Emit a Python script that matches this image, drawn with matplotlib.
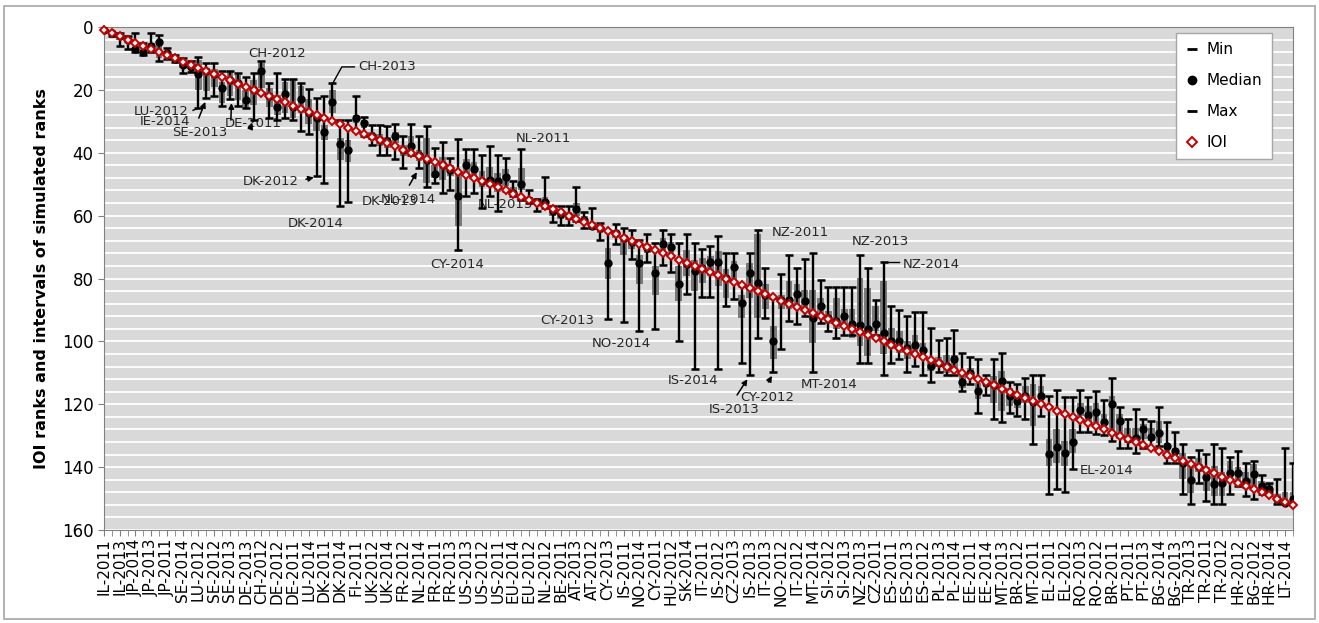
import numpy as np
import matplotlib
matplotlib.use("Agg")
import matplotlib.pyplot as plt
from matplotlib.lines import Line2D
from matplotlib.patches import Rectangle

# IOI rank of each country-year (1..152); only every second one is labelled on the axis
ioi = np.arange(1, 153)

tick_labels = [
    "IL-2011", "IL-2013", "JP-2014", "JP-2013", "JP-2011", "SE-2014", "LU-2012", "SE-2012",
    "SE-2013", "DE-2013", "CH-2012", "DE-2012", "DE-2011", "LU-2014", "DK-2011", "DK-2014",
    "FI-2011", "UK-2012", "UK-2014", "FR-2012", "NL-2014", "FR-2011", "FR-2013", "US-2013",
    "US-2012", "US-2011", "EU-2014", "EU-2012", "NL-2012", "BE-2011", "AT-2013", "AT-2012",
    "CY-2013", "IS-2011", "NO-2014", "CY-2011", "HU-2012", "SK-2014", "IT-2011", "IS-2012",
    "CZ-2013", "IS-2013", "IT-2013", "NO-2012", "IT-2012", "MT-2014", "SI-2012", "SI-2013",
    "NZ-2013", "CZ-2011", "ES-2011", "ES-2013", "ES-2012", "PL-2013", "PL-2014", "EE-2011",
    "EE-2014", "MT-2013", "BR-2012", "MT-2011", "EL-2011", "EL-2012", "RO-2013", "RO-2012",
    "BR-2011", "PT-2011", "PT-2013", "BG-2014", "BG-2013", "TR-2013", "TR-2011", "TR-2012",
    "HR-2012", "BG-2012", "HR-2014", "LT-2014",
]

median = np.array([
    1, 2, 3, 4, 7, 8, 6, 4.9, 8.4, 10.2,
    12, 12.6, 14.9, 14, 15, 19.5, 16.8, 17.9, 23.2, 20,
    14, 22.1, 25.3, 21.4, 25.3, 22.9, 27.4, 29.0, 33.4, 23.9,
    37.2, 39.0, 29.0, 30.6, 34.8, 35.9, 36.4, 34.8, 39.0, 37.7,
    40.8, 42.2, 46.7, 43.8, 45.4, 53.9, 43.8, 45.1, 49.1, 48.6,
    49.1, 47.7, 52.8, 49.8, 55.0, 55.8, 55.7, 58.6, 59.5, 60.2,
    57.9, 61.3, 63.2, 63.9, 75.0, 65.5, 67.0, 68.5, 75.0, 70.3,
    78.4, 68.9, 70.0, 81.6, 75.5, 77.7, 76.6, 74.8, 74.8, 79.8,
    76.3, 87.9, 78.2, 81.4, 85.1, 99.9, 86.7, 86.7, 84.9, 87.2,
    92.5, 88.6, 92.5, 93.5, 91.9, 94.6, 94.8, 96.2, 94.6, 97.3,
    99.9, 99.9, 102.0, 101.2, 102.8, 107.9, 106.8, 107.7, 105.7, 112.9,
    110.0, 115.8, 113.2, 114.0, 112.6, 117.4, 119.0, 117.4, 119.3, 117.4,
    135.9, 133.5, 135.4, 132.0, 121.9, 123.5, 122.5, 125.6, 119.8, 125.3,
    130.9, 130.6, 128.0, 130.3, 129.0, 133.3, 134.8, 138.6, 144.0, 140.1,
    143.3, 145.4, 144.9, 142.0, 142.0, 144.4, 142.3, 146.0, 146.8, 150.2,
    151.3, 150.2,
])

rank_min = np.array([
    1, 2, 2, 3, 2, 5, 2, 2.6, 6.8, 9,
    10, 10.8, 9.7, 11.5, 11.5, 13.9, 13.9, 14.5, 15.8, 14.5,
    10.7, 17.7, 14.5, 16.6, 16.6, 17.7, 19.8, 22.6, 21.8, 17.7,
    29.7, 29.7, 21.8, 28.7, 31.1, 31.1, 31.6, 30.8, 34.8, 30.8,
    34.8, 31.6, 38.5, 36.7, 41.7, 35.7, 38.8, 38.8, 40.6, 37.7,
    40.8, 41.8, 48.9, 38.8, 51.7, 54.6, 47.7, 56.8, 56.8, 56.8,
    50.9, 58.8, 57.6, 62.5, 64.9, 62.8, 63.9, 64.7, 67.6, 65.8,
    68.7, 64.7, 65.8, 68.7, 65.8, 68.7, 70.6, 69.7, 66.6, 71.9,
    71.9, 82.4, 71.9, 64.7, 76.6, 86.1, 78.5, 72.6, 76.6, 73.8,
    71.9, 80.5, 82.6, 82.6, 82.6, 82.6, 72.6, 76.6, 86.7, 74.8,
    88.6, 89.9, 91.8, 90.7, 90.7, 95.7, 99.7, 98.9, 96.5, 103.6,
    104.9, 105.7, 110.8, 105.7, 103.8, 112.9, 113.7, 111.6, 110.8, 110.8,
    117.4, 115.6, 117.6, 117.6, 115.6, 117.6, 115.8, 118.8, 111.6, 120.9,
    124.8, 121.6, 124.8, 125.3, 120.9, 125.6, 128.8, 132.7, 136.7, 134.6,
    135.9, 132.7, 133.8, 136.7, 134.8, 138.6, 138.0, 142.6, 144.9, 143.8,
    133.8, 138.6,
])

rank_max = np.array([
    1, 3, 6, 7, 8, 9, 8, 10.8, 10.3, 11,
    14.7, 14.2, 25.8, 22.6, 21.9, 25.1, 22.9, 25.1, 25.8, 29.5,
    21, 29, 29.5, 29, 29.7, 33, 33.9, 47.5, 49.6, 29.7,
    56.8, 55.7, 33.2, 34.8, 37.4, 40.8, 40.8, 41.9, 44.9, 40.6,
    44.9, 50.9, 49.6, 52.8, 51.7, 70.8, 53.9, 52.8, 57.6, 53.9,
    58.6, 52.3, 53.9, 54.9, 55.9, 58.6, 57.6, 61.9, 63.0, 63.0,
    61.8, 63.9, 63.9, 67.9, 92.8, 68.9, 93.9, 73.9, 96.7, 74.8,
    96.0, 75.8, 78.0, 99.9, 84.8, 108.9, 85.8, 85.8, 108.9, 88.8,
    86.5, 107.0, 110.8, 98.8, 92.5, 109.7, 102.5, 93.5, 94.6, 91.9,
    109.7, 94.3, 96.7, 98.8, 98.1, 98.1, 107.0, 107.0, 98.1, 110.8,
    107.0, 105.7, 109.8, 107.9, 110.8, 112.9, 109.8, 110.8, 110.8, 115.8,
    113.7, 122.9, 116.9, 124.8, 125.6, 122.9, 123.7, 124.8, 132.7, 123.7,
    148.6, 147.0, 148.0, 140.7, 128.8, 128.8, 129.6, 129.9, 131.7, 133.8,
    133.8, 135.4, 133.8, 133.8, 133.3, 138.8, 138.8, 148.6, 151.8, 144.9,
    150.7, 151.8, 151.8, 148.6, 146.0, 149.1, 150.0, 148.6, 148.0, 151.8,
    151.8, 152,
])

# grey band around the median
q_low = np.array([
    1, 2, 3, 4, 6.5, 7.3, 5, 4, 8, 9.5,
    11, 12, 10.5, 13.1, 13.5, 17.4, 14.2, 15.2, 20, 16.8,
    11.5, 19.5, 21.6, 17.4, 16.8, 18.9, 23.0, 27.4, 31.1, 20.0,
    35.3, 35.9, 28.0, 29.5, 33.5, 34, 35, 33.5, 37.5, 34.8,
    39, 35.3, 44, 41.2, 44, 46.5, 42, 43, 45.7, 44.6,
    46.3, 45.2, 51, 44.9, 54, 55, 54.1, 57.5, 58, 59,
    56, 60, 62, 63, 70.2, 64.5, 66.5, 67, 72.4, 69,
    76.1, 67.1, 68.5, 76.1, 70.8, 74, 73.4, 72.9, 71.3, 77.1,
    74.5, 85.1, 75.0, 66.0, 81.9, 95.1, 85.1, 80.9, 81.9, 83.5,
    83.5, 86.1, 90.4, 86.1, 89.8, 89.8, 79.8, 83.0, 88.8, 80.9,
    95.7, 96.8, 99.9, 98.1, 100.5, 105.7, 105, 104.2, 104.2, 111,
    108.4, 113.2, 112, 111, 109.4, 114.7, 116.3, 114.2, 113.7, 114.2,
    131.1, 128.0, 131.7, 128.0, 119.5, 120.6, 119.5, 123.2, 117.4, 123.2,
    127.4, 127.4, 126.4, 127.4, 125.3, 132.2, 133.8, 135.4, 139.6, 137.0,
    140.1, 139.6, 141.7, 138.0, 140.1, 141.7, 139.1, 144.4, 145.4, 148.6,
    148.0, 148.0,
])

q_high = np.array([
    1, 2.5, 4, 5, 8, 8.9, 7, 10, 9, 10.5,
    13, 13.5, 20, 20.5, 19, 24.2, 22.1, 23.2, 25.8, 24.8,
    19.5, 25.3, 27.9, 27.4, 29, 27.4, 30.8, 33.2, 35.9, 27.4,
    42.2, 42.8, 30.6, 32, 36, 38, 38.5, 37, 41, 39.6,
    42.5, 49.6, 48, 48.6, 47.5, 63.4, 47, 48, 51, 50.9,
    52.5, 50.7, 53.5, 51.8, 55.9, 57, 57.2, 60, 61, 61.5,
    60.2, 62.5, 63.9, 65.5, 80.3, 67, 72.4, 70.5, 81.9, 72,
    85.4, 71.3, 72, 87.2, 79.2, 84, 81.4, 79.3, 82.4, 86.1,
    80.9, 92.5, 86.1, 92.5, 89.8, 105.7, 89.8, 89.8, 88.3, 89.8,
    100.4, 91.9, 94.6, 96.2, 94.6, 98.8, 101.5, 104.7, 96.7, 104.1,
    102.5, 103.6, 105.7, 104.7, 105.7, 109.4, 108, 110, 109.4, 114.7,
    112.1, 118.4, 114.5, 119.5, 122.1, 120.6, 121.1, 119.5, 126.9, 120.6,
    139.6, 138.6, 139.6, 135.4, 123.7, 125.9, 125.9, 128.3, 129.0, 131.1,
    132.2, 132.2, 131.1, 131.7, 132.2, 137.5, 137.5, 143.8, 148.1, 141.7,
    147.5, 149.1, 149.1, 143.8, 144.4, 147.0, 146.0, 147.5, 148.0, 151.8,
    151.8, 152,
])

RED = "#c00000"

fig = plt.figure(figsize=(13.19, 6.23), dpi=100)
fig.patches.append(Rectangle((0.003, 0.006), 0.994, 0.984, transform=fig.transFigure,
                             fill=False, edgecolor="#a6a6a6", lw=1.2))

ax = fig.add_axes([104 / 1319, 1 - 530 / 623, 1189 / 1319, 503 / 623])
ax.set_facecolor("#d9d9d9")
ax.set_xlim(1, 152)
ax.set_ylim(160, 0)

ax.set_yticks(range(0, 161, 20))
ax.set_yticks(range(0, 161, 4), minor=True)
ax.grid(axis="y", which="both", color="white", lw=1.3)
ax.set_axisbelow(True)
ax.tick_params(axis="y", which="major", labelsize=12, length=4, color="#808080")
ax.tick_params(axis="y", which="minor", length=0)

ax.set_xticks(ioi[::2])
ax.set_xticklabels(tick_labels, rotation=90, fontsize=11)
ax.set_xticks(ioi[1::2], minor=True)
ax.tick_params(axis="x", which="both", length=4, color="#808080", pad=2)

for s in ax.spines.values():
    s.set_color("#808080")

ax.set_ylabel("IOI ranks and intervals of simulated ranks", fontsize=11.5, fontweight="bold")
ax.yaxis.set_label_coords(-0.046, 0.5)

# grey band, whiskers with min/max caps, median dot
ax.bar(ioi, q_high - q_low, bottom=q_low, width=0.85, color="#7a7a7a", zorder=2)
ax.errorbar(ioi, median, yerr=[median - rank_min, rank_max - median], fmt="o",
            color="black", ms=5, elinewidth=1.7, capsize=2.8, capthick=1.8, zorder=3)
ax.plot(ioi, ioi, color=RED, lw=1, marker="D", ms=4.3, mfc="#f2f2f2", mec=RED,
        mew=1.4, zorder=4, clip_on=False)

# annotations
note_kw = dict(fontsize=9.5, color="#262626", ha="center", va="center", zorder=1.5)
for txt, x, y in [("CH-2012", 23.0, 8.3), ("LU-2012", 8.3, 27.0), ("IE-2014", 8.8, 30.2),
                  ("SE-2013", 13.2, 33.7), ("DE-2011", 19.9, 30.8), ("DK-2012", 22.2, 49.2),
                  ("DK-2014", 27.9, 62.5), ("DK-2013", 37.3, 55.6), ("NL-2014", 39.7, 54.9),
                  ("CY-2014", 45.9, 75.6), ("NL-2013", 52.0, 56.5), ("NL-2011", 56.8, 35.6),
                  ("CY-2013", 59.8, 93.3), ("NO-2014", 66.7, 100.6), ("IS-2014", 75.8, 112.4),
                  ("IS-2013", 81.0, 121.6), ("CY-2012", 85.2, 117.8), ("MT-2014", 93.1, 113.7),
                  ("NZ-2011", 89.4, 65.4), ("NZ-2013", 99.6, 68.3), ("EL-2014", 128.3, 141.0)]:
    ax.text(x, y, txt, **note_kw)
ax.text(33.3, 12.7, "CH-2013", fontsize=9.5, color="#262626", ha="left", va="center")
ax.plot([30.1, 31.2, 32.8], [17.7, 12.7, 12.7], color="black", lw=1, zorder=3)
ax.text(102.5, 75.6, "NZ-2014", fontsize=9.5, color="#262626", ha="left", va="center")
ax.plot([100.5, 101.9], [74.9, 74.9], color="black", lw=1, zorder=3)
ax.plot([12.3, 13.0], [26.5, 25.8], color="black", lw=1, zorder=3)

arrow = dict(arrowstyle="-|>", color="black", lw=1.1, mutation_scale=8)
for (x0, y0), (x1, y1) in [((12.9, 29.8), (14.0, 23.0)), ((17.1, 30.5), (17.2, 23.3)),
                           ((19.6, 32.2), (20.0, 29.8)), ((26.3, 48.6), (28.0, 47.7)),
                           ((39.6, 51.1), (40.9, 45.4)), ((81.2, 117.8), (82.9, 111.3)),
                           ((85.2, 113.7), (86.0, 110.2))]:
    ax.annotate("", xy=(x1, y1), xytext=(x0, y0), arrowprops=arrow, zorder=3)

handles = [
    Line2D([], [], ls="none", marker="_", color="black", ms=7, mew=2),
    Line2D([], [], ls="none", marker="o", color="black", ms=6),
    Line2D([], [], ls="none", marker="_", color="black", ms=7, mew=2),
    Line2D([], [], ls="none", marker="D", mfc="white", mec=RED, mew=1.4, ms=5),
]
leg = ax.legend(handles, ["Min", "Median", "Max", "IOI"], loc="upper right",
                bbox_to_anchor=(0.982, 0.988), borderaxespad=0, fontsize=11,
                labelspacing=1.05, handlelength=0.8, handletextpad=0.6,
                fancybox=False, framealpha=1, edgecolor="#a6a6a6", borderpad=0.6)
leg.get_frame().set_linewidth(1)

fig.savefig("out.png", dpi=100)
